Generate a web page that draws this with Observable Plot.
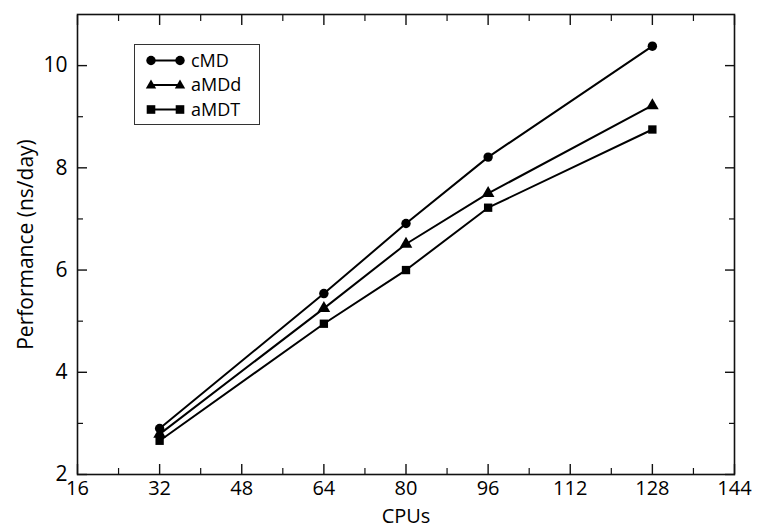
<!DOCTYPE html>
<html><head><meta charset="utf-8">
<script src="https://cdn.jsdelivr.net/npm/d3@7"></script>
<script src="https://cdn.jsdelivr.net/npm/@observablehq/plot@0.6"></script>
<style>
body{margin:0;background:#fff}
#wrap{position:relative;width:759px;height:528px}
#legend{position:absolute;left:134px;top:44px;width:126px;height:81px;border:1.2px solid #333;background:#fff;box-sizing:border-box}
</style>
</head><body><div id="wrap"></div>
<script>
const cpus = [32, 64, 80, 96, 128];
const cMD  = [2.90, 5.54, 6.91, 8.21, 10.38];
const aMDd = [2.79, 5.25, 6.51, 7.50, 9.22];
const aMDT = [2.66, 4.95, 6.00, 7.22, 8.75];
const seriesNames = ["cMD", "aMDd", "aMDT"];
const seriesSymbols = ["circle", "triangle", "square"];
const xMajor = [16, 32, 48, 64, 80, 96, 112, 128, 144];
const xMinor = [24, 40, 56, 72, 88, 104, 120, 136];
const yMajor = [2, 4, 6, 8, 10];
const yMinor = [3, 5, 7, 9];

const seriesValues = [cMD, aMDd, aMDT];
const data = seriesNames.flatMap((s, j) => cpus.map((c, i) => ({cpu: c, perf: seriesValues[j][i], s})));

const font = "'Open Sans', sans-serif";
const fsX = 20, fsY = 21;
const blank = () => "";
const chart = Plot.plot({
  width: 759, height: 528,
  marginLeft: 77, marginRight: 25, marginTop: 14, marginBottom: 54,
  style: {fontFamily: font, fontSize: fsY + "px", color: "#000", background: "#fff", overflow: "visible"},
  x: {domain: [16, 144]},
  y: {domain: [2, 11]},
  symbol: {domain: seriesNames, range: seriesSymbols},
  marks: [
    Plot.frame({stroke: "#111", strokeWidth: 1.6}),
    Plot.axisX({anchor: "bottom", ticks: xMajor, tickSize: -10, tickPadding: 16, fontSize: fsX, stroke: "#111", strokeWidth: 1.4, label: "CPUs", labelAnchor: "center", labelOffset: 48, labelArrow: "none"}),
    Plot.axisX({anchor: "bottom", ticks: xMinor, tickSize: -6, tickFormat: blank, label: null, stroke: "#111", strokeWidth: 1.2}),
    Plot.axisX({anchor: "top", ticks: xMajor, tickSize: -10, tickFormat: blank, label: null, stroke: "#111", strokeWidth: 1.4}),
    Plot.axisX({anchor: "top", ticks: xMinor, tickSize: -6, tickFormat: blank, label: null, stroke: "#111", strokeWidth: 1.2}),
    Plot.axisY({anchor: "left", ticks: yMajor, tickSize: -10, tickPadding: 20, fontSize: fsY, stroke: "#111", strokeWidth: 1.4, label: "Performance (ns/day)", labelAnchor: "center", labelOffset: 59, labelArrow: "none"}),
    Plot.axisY({anchor: "left", ticks: yMinor, tickSize: -6, tickFormat: blank, label: null, stroke: "#111", strokeWidth: 1.2}),
    Plot.axisY({anchor: "right", ticks: yMajor, tickSize: -10, tickFormat: blank, label: null, stroke: "#111", strokeWidth: 1.4}),
    Plot.axisY({anchor: "right", ticks: yMinor, tickSize: -6, tickFormat: blank, label: null, stroke: "#111", strokeWidth: 1.2}),
    Plot.line(data, {x: "cpu", y: "perf", z: "s", stroke: "#000", strokeWidth: 2}),
    Plot.dot(data, {x: "cpu", y: "perf", symbol: "s", fill: "#000", r: 4.7})
  ]
});
const wrap = document.getElementById("wrap");
wrap.appendChild(chart);

// legend
const leg = document.createElement("div");
leg.id = "legend";
const symPaths = {
  circle: (x, y) => `<circle cx="${x}" cy="${y}" r="4.7" fill="#000"/>`,
  triangle: (x, y) => `<path d="M${x},${y-5.5}L${x+5.2},${y+3.5}L${x-5.2},${y+3.5}Z" fill="#000"/>`,
  square: (x, y) => `<rect x="${x-4.3}" y="${y-4.3}" width="8.6" height="8.6" fill="#000"/>`
};
let svg = `<svg width="124" height="79" style="font-family:${font};font-size:18px">`;
seriesNames.forEach((name, i) => {
  const y = 15.5 + i * 24.5;
  const sym = seriesSymbols[i];
  svg += `<line x1="16" x2="45" y1="${y}" y2="${y}" stroke="#000" stroke-width="2"/>`;
  svg += symPaths[sym](16, y) + symPaths[sym](45, y);
  svg += `<text x="56" y="${y}" dy="0.35em" fill="#000">${name}</text>`;
});
svg += `</svg>`;
leg.innerHTML = svg;
wrap.appendChild(leg);
</script>
</body></html>
